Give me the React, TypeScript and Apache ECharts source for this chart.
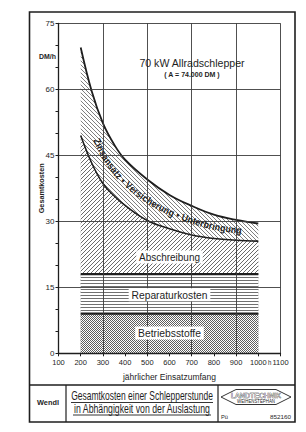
import React, { useEffect, useRef } from 'react';
import * as echarts from 'echarts';

// ---- data ----
const hours = [200, 250, 300, 350, 400, 500, 600, 700, 800, 900, 1000];
const totalCost = [69.5, 59.5, 52.3, 47.5, 44.0, 39.5, 36.0, 33.5, 31.5, 30.3, 29.5];
const depreciationTop = [49.5, 43.2, 38.6, 35.8, 33.6, 30.2, 28.3, 26.9, 26.1, 25.7, 25.5];
const repairTop = [18, 18, 18, 18, 18, 18, 18, 18, 18, 18, 18];
const fuelCost = [9, 9, 9, 9, 9, 9, 9, 9, 9, 9, 9];
const bandLabel = 'Zinsansatz • Versicherung • Unterbringung';

const SANS = '"Liberation Sans", Arial, sans-serif';
const INK = '#1e1e1e';

const measureCtx = document.createElement('canvas').getContext('2d') as CanvasRenderingContext2D;
function measure(text: string, font: string) {
  measureCtx.font = font;
  return measureCtx.measureText(text).width;
}

function makeTile(size: number, draw: (ctx: CanvasRenderingContext2D, s: number) => void) {
  const c = document.createElement('canvas');
  c.width = size;
  c.height = size;
  const ctx = c.getContext('2d') as CanvasRenderingContext2D;
  ctx.fillStyle = '#ffffff';
  ctx.fillRect(0, 0, size, size);
  draw(ctx, size);
  return { image: c, repeat: 'repeat', imageWidth: size, imageHeight: size };
}

function diagTile(dir: 1 | -1, color: string) {
  return makeTile(4, (ctx, s) => {
    ctx.strokeStyle = color;
    ctx.lineWidth = 0.9;
    for (const off of [-s, 0, s]) {
      ctx.beginPath();
      if (dir === 1) {
        ctx.moveTo(off - 1, -1);
        ctx.lineTo(off + s + 1, s + 1);
      } else {
        ctx.moveTo(off - 1, s + 1);
        ctx.lineTo(off + s + 1, -1);
      }
      ctx.stroke();
    }
  });
}

function horizTile() {
  return makeTile(3, (ctx) => {
    ctx.fillStyle = '#707070';
    ctx.fillRect(0, 1, 3, 1);
  });
}

function dotTile() {
  return makeTile(2, (ctx) => {
    ctx.fillStyle = '#5e5e5e';
    ctx.fillRect(0, 0, 1, 1);
    ctx.fillRect(1, 1, 1, 1);
  });
}

// text squeezed horizontally to a target width (the drawing uses a condensed lettering)
function fitText(text: string, x: number, y: number, font: string, width: number, extra: any = {}, align = 'center', rotation = 0) {
  const w = measure(text, font);
  return {
    type: 'text', x, y, scaleX: width / w, rotation, z: 100,
    style: { text, font, fill: INK, textAlign: align, textVerticalAlign: 'middle', ...extra },
  };
}

function curvedText(chart: any) {
  const mid = hours.map((h, i) =>
    chart.convertToPixel({ xAxisIndex: 0, yAxisIndex: 0 }, [h, (totalCost[i] + depreciationTop[i]) / 2]) as number[]
  );
  const dense: number[][] = [];
  for (let i = 0; i < mid.length - 1; i++) {
    const p0 = mid[Math.max(0, i - 1)], p1 = mid[i], p2 = mid[i + 1], p3 = mid[Math.min(mid.length - 1, i + 2)];
    for (let k = 0; k < 24; k++) {
      const t = k / 24, t2 = t * t, t3 = t2 * t;
      const f = (a: number, b: number, c: number, d: number) =>
        0.5 * (2 * b + (-a + c) * t + (2 * a - 5 * b + 4 * c - d) * t2 + (-a + 3 * b - 3 * c + d) * t3);
      dense.push([f(p0[0], p1[0], p2[0], p3[0]), f(p0[1], p1[1], p2[1], p3[1])]);
    }
  }
  dense.push(mid[mid.length - 1]);
  const cum = [0];
  for (let i = 1; i < dense.length; i++) {
    cum.push(cum[i - 1] + Math.hypot(dense[i][0] - dense[i - 1][0], dense[i][1] - dense[i - 1][1]));
  }
  const arcAtX = (px: number) => {
    for (let i = 1; i < dense.length; i++) {
      if (dense[i][0] >= px) {
        const r = (px - dense[i - 1][0]) / (dense[i][0] - dense[i - 1][0] || 1);
        return cum[i - 1] + r * (cum[i] - cum[i - 1]);
      }
    }
    return cum[cum.length - 1];
  };
  const pointAt = (s: number) => {
    let i = 1;
    while (i < dense.length - 1 && cum[i] < s) i++;
    const r = (s - cum[i - 1]) / (cum[i] - cum[i - 1] || 1);
    const x = dense[i - 1][0] + r * (dense[i][0] - dense[i - 1][0]);
    const y = dense[i - 1][1] + r * (dense[i][1] - dense[i - 1][1]);
    const ang = Math.atan2(dense[i][1] - dense[i - 1][1], dense[i][0] - dense[i - 1][0]);
    return [x, y, ang];
  };
  const s0 = arcAtX(chart.convertToPixel({ xAxisIndex: 0 }, 270));
  const s1 = arcAtX(chart.convertToPixel({ xAxisIndex: 0 }, 925));
  const font = `bold 10px ${SANS}`;
  const chars = bandLabel.split('');
  const raw = chars.map((c) => measure(c, font));
  const W = raw.reduce((a, b) => a + b, 0);
  const L = s1 - s0;
  const sc = Math.min(1, (L * 0.97) / W);
  const widths = raw.map((w) => w * sc);
  const extra = (L - W * sc) / (chars.length - 1);
  const out: any[] = [];
  let s = s0;
  chars.forEach((c, i) => {
    const [x, y, ang] = pointAt(s + widths[i] / 2);
    if (c !== ' ') {
      out.push({
        type: 'text', x, y, rotation: -ang, scaleX: sc, z: 100,
        style: { text: c, font, fill: INK, textAlign: 'center', textVerticalAlign: 'middle' },
      });
    }
    s += widths[i] + extra;
  });
  return out;
}

export default function App() {
  const ref = useRef<HTMLDivElement>(null);
  useEffect(() => {
    document.body.style.margin = '0';
    const chart = echarts.init(ref.current as HTMLDivElement, null, { renderer: 'svg', width: 306, height: 432 });

    const pair = (arr: number[]) => hours.map((h, i) => [h, arr[i]]);
    const axisText = { fontFamily: SANS, fontSize: 7.5, color: INK };
    const gridLine = { show: true, lineStyle: { color: '#3c3c3c', width: 0.9 } };

    chart.setOption({
      animation: false,
      backgroundColor: '#ffffff',
      grid: { left: 58.5, top: 23.3, width: 222, height: 330, containLabel: false },
      xAxis: [
        {
          type: 'value', min: 100, max: 1100, interval: 100, z: 6,
          axisLine: { show: true, onZero: false, lineStyle: { color: INK, width: 1.3 } },
          axisTick: { show: true, length: 3, lineStyle: { color: INK, width: 1 } },
          axisLabel: { ...axisText, margin: 5, formatter: (v: number) => String(v) },
          splitLine: { show: false },
          name: 'jährlicher Einsatzumfang', nameLocation: 'middle', nameGap: 19,
          nameTextStyle: { fontFamily: SANS, fontSize: 8.5, color: INK },
        },
        {
          type: 'value', min: 100, max: 1100, interval: 200, position: 'bottom', z: 5,
          axisLine: { show: false }, axisTick: { show: false }, axisLabel: { show: false },
          splitLine: gridLine,
        },
      ],
      yAxis: [
        {
          type: 'value', min: 0, max: 75, interval: 5, z: 6,
          axisLine: { show: true, onZero: false, lineStyle: { color: INK, width: 1.3 } },
          axisTick: { show: true, length: 3, lineStyle: { color: INK, width: 1 } },
          axisLabel: { ...axisText, fontSize: 8, margin: 4, formatter: (v: number) => (v % 15 === 0 ? String(v) : '') },
          splitLine: { show: false },
        },
        {
          type: 'value', min: 0, max: 75, interval: 15, position: 'left', z: 5,
          axisLine: { show: false }, axisTick: { show: false }, axisLabel: { show: false },
          splitLine: gridLine,
        },
      ],
      // each band is an area filled down to 0; later series cover the lower part of earlier ones
      series: [
        {
          name: 'Zinsansatz, Versicherung, Unterbringung', type: 'line', data: pair(totalCost), showSymbol: false, smooth: 0.4,
          lineStyle: { color: INK, width: 1.8 },
          areaStyle: { color: diagTile(1, '#707070'), opacity: 1 },
        },
        {
          name: 'Abschreibung', type: 'line', data: pair(depreciationTop), showSymbol: false, smooth: 0.4,
          lineStyle: { color: INK, width: 1.6 },
          areaStyle: { color: diagTile(-1, '#5a5a5a'), opacity: 1 },
        },
        {
          name: 'Reparaturkosten', type: 'line', data: pair(repairTop), showSymbol: false,
          lineStyle: { color: INK, width: 2.2 },
          areaStyle: { color: horizTile(), opacity: 1 },
        },
        {
          name: 'Betriebsstoffe', type: 'line', data: pair(fuelCost), showSymbol: false,
          lineStyle: { color: INK, width: 2.2 },
          areaStyle: { color: dotTile(), opacity: 1 },
        },
      ],
    });

    const px = (x: number, y: number) => chart.convertToPixel({ xAxisIndex: 0, yAxisIndex: 0 }, [x, y]) as number[];
    const boxLabel = (text: string, p: number[], width: number) =>
      fitText(text, p[0], p[1], `11px ${SANS}`, width, { backgroundColor: '#ffffff', padding: [1, 3] });
    const hPos = px(1050, 0);
    const a = px(600, 21.9), r = px(600, 13.3), b = px(600, 4.6);
    const yName = px(100, 37.5);

    const elements: any[] = [
      // outer frame and title block
      { type: 'rect', shape: { x: 29.5, y: 12, width: 265.5, height: 410 }, style: { fill: 'none', stroke: INK, lineWidth: 1.6 } },
      { type: 'line', shape: { x1: 29.5, y1: 385, x2: 295, y2: 385 }, style: { stroke: INK, lineWidth: 1.4 } },
      { type: 'line', shape: { x1: 66, y1: 385, x2: 66, y2: 422 }, style: { stroke: INK, lineWidth: 1.2 } },
      { type: 'line', shape: { x1: 218, y1: 385, x2: 218, y2: 422 }, style: { stroke: INK, lineWidth: 1.2 } },
      fitText('Wendl', 48, 402, `bold 8px ${SANS}`, 22),
      fitText('Gesamtkosten einer Schlepperstunde', 142, 396, `12px ${SANS}`, 142),
      { type: 'line', shape: { x1: 71, y1: 402.5, x2: 213, y2: 402.5 }, style: { stroke: INK, lineWidth: 0.9 } },
      fitText('in Abhängigkeit von der Auslastung', 142, 408.5, `12px ${SANS}`, 137),
      { type: 'line', shape: { x1: 73, y1: 415, x2: 211, y2: 415 }, style: { stroke: INK, lineWidth: 0.9 } },
      { type: 'polygon', shape: { points: [[221, 397], [236, 389.5], [276, 389.5], [291, 397], [276, 404.5], [236, 404.5]] }, style: { fill: 'none', stroke: INK, lineWidth: 0.9 } },
      fitText('LANDTECHNIK', 256, 395, `7.5px ${SANS}`, 50, { fill: '#ffffff', stroke: INK, lineWidth: 0.6 }),
      fitText('WEIHENSTEPHAN', 256, 401, `4.5px ${SANS}`, 38),
      fitText('Pü', 221, 416.5, `6px ${SANS}`, 7, {}, 'left'),
      fitText('852160', 291, 416.5, `6px ${SANS}`, 21, {}, 'right'),
      // chart texts
      fitText('Gesamtkosten', yName[0] - 17, yName[1], `bold 8px ${SANS}`, 50, {}, 'center', Math.PI / 2),
      fitText('DM/h', 56, 56, `bold 8px ${SANS}`, 17, {}, 'right'),
      fitText('h', hPos[0] + 0.3, hPos[1] + 9, `7.5px ${SANS}`, 3.4),
      fitText('70 kW Allradschlepper', 192, 63, `11px ${SANS}`, 106),
      fitText('( A = 74.000 DM )', 192, 74.5, `bold 7.5px ${SANS}`, 56),
      boxLabel('Abschreibung', a, 61),
      boxLabel('Reparaturkosten', r, 76),
      boxLabel('Betriebsstoffe', b, 63),
      ...curvedText(chart),
    ];
    chart.setOption({ graphic: { elements } });
    return () => chart.dispose();
  }, []);
  return <div ref={ref} style={{ width: 306, height: 432 }} />;
}
